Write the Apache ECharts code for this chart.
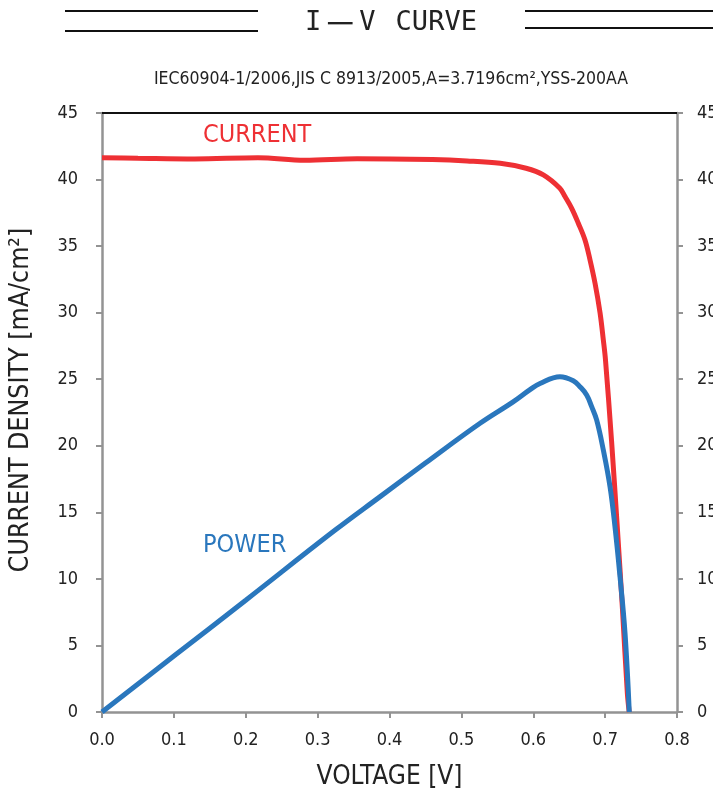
<!DOCTYPE html>
<html>
<head>
<meta charset="utf-8">
<script src="https://cdn.jsdelivr.net/npm/echarts@6/dist/echarts.min.js"></script>
<style>html,body{margin:0;padding:0;background:#fff;overflow:hidden}#c{width:713px;height:792px}</style>
</head>
<body>
<div id="c"></div>
<script>
// Data
const voltageI = [0, 0.05, 0.129, 0.217, 0.282, 0.355, 0.46, 0.508, 0.554, 0.59, 0.614, 0.637, 0.6442, 0.6535, 0.6627, 0.672, 0.679, 0.686, 0.6929, 0.6975, 0.7005, 0.7089, 0.7169, 0.7242, 0.7309, 0.7335];
const currentDensity = [41.64, 41.6, 41.55, 41.64, 41.45, 41.57, 41.5, 41.4, 41.22, 40.85, 40.35, 39.35, 38.72, 37.84, 36.72, 35.46, 33.96, 32.2, 30.0, 27.95, 26.45, 20.4, 13.9, 7.66, 1.43, 0];
const voltageP = [0, 0.1, 0.2, 0.324, 0.387, 0.45, 0.526, 0.572, 0.595, 0.6094, 0.6372, 0.6557, 0.665, 0.6743, 0.6813, 0.6882, 0.6975, 0.7068, 0.7137, 0.7207, 0.7277, 0.7336];
const powerDensity = [0, 4.2, 8.4, 13.65, 16.18, 18.7, 21.69, 23.3, 24.2, 24.68, 25.19, 24.89, 24.44, 23.82, 22.94, 21.94, 19.68, 16.93, 13.92, 10.17, 5.91, 0];
const xTicks = [0, 0.8, 0.1];   // min, max, interval
const yTicks = [0, 45, 5];

const subtitleText = 'IEC60904-1/2006,JIS C 8913/2005,A=3.7196cm²,YSS-200AA';
const xName = 'VOLTAGE [V]';
const yName = 'CURRENT DENSITY [mA/cm²]';
const seriesNames = ['CURRENT', 'POWER'];

const NARROW = '"Liberation Sans Narrow", "DejaVu Sans Condensed", "Liberation Sans", Arial, sans-serif';
const MONO = '"DejaVu Sans Mono", "Liberation Mono", monospace';
const RED = '#ee3034';
const BLUE = '#2a77bd';
const GREY = '#939393';
const TXT = '#222';

const chart = echarts.init(document.getElementById('c'), null, {renderer: 'canvas'});

const axisCommon = {
  axisLine: {show: true, onZero: false, lineStyle: {color: GREY, width: 2.5}},
  axisTick: {show: true, length: 6, lineStyle: {color: GREY, width: 2}},
  splitLine: {show: false},
  axisLabel: {color: TXT, fontSize: 18, fontFamily: NARROW}
};

const option = {
  animation: false,
  backgroundColor: '#fff',
  grid: {left: 102, right: 36, top: 113, bottom: 80, containLabel: false, outerBoundsMode: 'none'},
  xAxis: [
    Object.assign({}, axisCommon, {
      type: 'value', position: 'bottom', min: xTicks[0], max: xTicks[1], interval: xTicks[2],
      axisLabel: Object.assign({}, axisCommon.axisLabel, {margin: 19, formatter: v => v.toFixed(1)}),
      name: xName, nameLocation: 'middle', nameGap: 52,
      nameTextStyle: {color: TXT, fontSize: 26, fontFamily: NARROW}
    }),
    {
      type: 'value', position: 'top', min: xTicks[0], max: xTicks[1], interval: xTicks[2],
      axisLine: {show: true, onZero: false, lineStyle: {color: '#111', width: 2}},
      axisTick: {show: false}, axisLabel: {show: false}, splitLine: {show: false}
    }
  ],
  yAxis: [
    Object.assign({}, axisCommon, {
      type: 'value', position: 'left', min: yTicks[0], max: yTicks[1], interval: yTicks[2],
      axisLabel: Object.assign({}, axisCommon.axisLabel, {margin: 24})
    }),
    Object.assign({}, axisCommon, {
      type: 'value', position: 'right', min: yTicks[0], max: yTicks[1], interval: yTicks[2],
      axisLabel: Object.assign({}, axisCommon.axisLabel, {margin: 20})
    })
  ],
  series: [
    {
      name: seriesNames[0], type: 'line', xAxisIndex: 0, yAxisIndex: 0,
      data: voltageI.map((v, i) => [v, currentDensity[i]]),
      showSymbol: false, smooth: 0.35,
      lineStyle: {color: RED, width: 5}, itemStyle: {color: RED}, z: 2
    },
    {
      name: seriesNames[1], type: 'line', xAxisIndex: 0, yAxisIndex: 0,
      data: voltageP.map((v, i) => [v, powerDensity[i]]),
      showSymbol: false, smooth: 0.4,
      lineStyle: {color: BLUE, width: 5}, itemStyle: {color: BLUE}, z: 3
    }
  ],
  graphic: [
    {type: 'line', shape: {x1: 65, y1: 11, x2: 258, y2: 11}, style: {stroke: '#111', lineWidth: 2}},
    {type: 'line', shape: {x1: 65, y1: 31, x2: 258, y2: 31}, style: {stroke: '#111', lineWidth: 2}},
    {type: 'line', shape: {x1: 525, y1: 11, x2: 713, y2: 11}, style: {stroke: '#111', lineWidth: 2}},
    {type: 'line', shape: {x1: 525, y1: 28, x2: 713, y2: 28}, style: {stroke: '#111', lineWidth: 2}},
    {type: 'text', x: 391, y: 23, style: {
      text: '{a|I}{d|－}{a|V}{c|CURVE}', textAlign: 'center', textVerticalAlign: 'middle',
      rich: {
        a: {fontFamily: MONO, fontSize: 27, fill: TXT, color: TXT},
        d: {fontFamily: '"Noto Sans CJK JP", sans-serif', fontSize: 34, fill: TXT, color: TXT, padding: [0, 2, 0, 2]},
        c: {fontFamily: MONO, fontSize: 27, fill: TXT, color: TXT, padding: [0, 0, 0, 20]}
      }
    }},
    {type: 'text', x: 391, y: 79, style: {text: subtitleText, fill: TXT, font: '17.5px ' + NARROW, textAlign: 'center', textVerticalAlign: 'middle'}},
    {type: 'text', x: 21, y: 400, rotation: Math.PI / 2, style: {text: yName, fill: TXT, font: '26.5px ' + NARROW, textAlign: 'center', textVerticalAlign: 'middle'}},
    {type: 'text', x: 203, y: 135, style: {text: seriesNames[0], fill: RED, font: '25px ' + NARROW, textAlign: 'left', textVerticalAlign: 'middle'}},
    {type: 'text', x: 203, y: 545, style: {text: seriesNames[1], fill: BLUE, font: '25px ' + NARROW, textAlign: 'left', textVerticalAlign: 'middle'}}
  ]
};
chart.setOption(option);
</script>
</body>
</html>
